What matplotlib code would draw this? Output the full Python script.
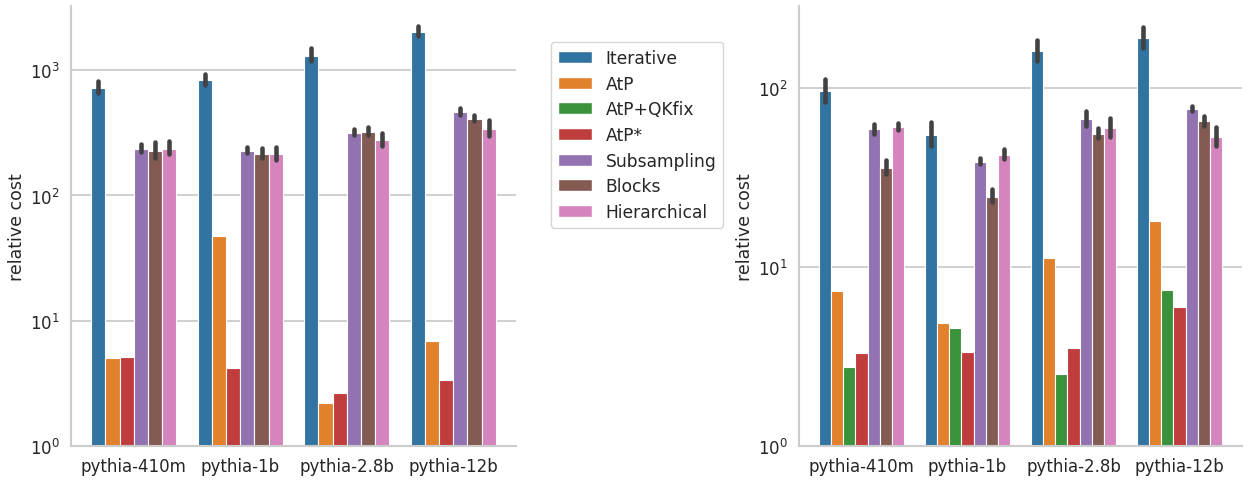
import colorsys
import numpy as np
import matplotlib
matplotlib.use("Agg")
import matplotlib.pyplot as plt
import matplotlib.colors as mcolors
from matplotlib.patches import Patch
import seaborn as sns

models = ["pythia-410m", "pythia-1b", "pythia-2.8b", "pythia-12b"]
methods = ["Iterative", "AtP", "AtP+QKfix", "AtP*", "Subsampling", "Blocks", "Hierarchical"]

# Left panel (no AtP+QKfix)
left_methods = ["Iterative", "AtP", "AtP*", "Subsampling", "Blocks", "Hierarchical"]
left_vals = {
    "Iterative":    [723, 838, 1312, 2018],
    "AtP":          [5.0, 47.2, 2.18, 6.87],
    "AtP*":         [5.15, 4.16, 2.64, 3.35],
    "Subsampling":  [235, 227, 316, 462],
    "Blocks":       [227, 215, 322, 411],
    "Hierarchical": [237, 215, 278, 342],
}
left_lo = {
    "Iterative":    [658, 769, 1183, 1875],
    "Subsampling":  [221, 219, 303, 440],
    "Blocks":       [198, 198, 305, 394],
    "Hierarchical": [213, 191, 247, 299],
}
left_hi = {
    "Iterative":    [828, 941, 1503, 2250],
    "Subsampling":  [256, 245, 338, 504],
    "Blocks":       [269, 241, 351, 440],
    "Hierarchical": [273, 245, 318, 402],
}

# Right panel
right_vals = {
    "Iterative":    [96.6, 54.8, 161, 191],
    "AtP":          [7.34, 4.88, 11.2, 18.0],
    "AtP+QKfix":    [2.76, 4.56, 2.52, 7.41],
    "AtP*":         [3.30, 3.34, 3.51, 5.95],
    "Subsampling":  [59.0, 38.7, 67.1, 76.3],
    "Blocks":       [36.0, 24.7, 55.7, 65.3],
    "Hierarchical": [60.7, 42.5, 60.0, 53.4],
}
right_lo = {
    "Iterative":    [84, 47.3, 142, 169],
    "Subsampling":  [55.5, 37.6, 61.3, 74.6],
    "Blocks":       [33.3, 23.0, 52.5, 61.8],
    "Hierarchical": [58.2, 40.4, 53.4, 47.7],
}
right_hi = {
    "Iterative":    [113, 64.5, 186, 220],
    "Subsampling":  [63.4, 40.7, 74.6, 79.3],
    "Blocks":       [39.7, 27.3, 60.2, 70.3],
    "Hierarchical": [64.0, 45.6, 68.4, 60.5],
}

sns.set_theme(style="whitegrid")
plt.rcParams['font.family'] = ['DejaVu Sans']


def desat(c, s=0.75):
    r, g, b = mcolors.to_rgb(c)
    h, l, sat = colorsys.rgb_to_hls(r, g, b)
    return colorsys.hls_to_rgb(h, l, sat * s)


base = plt.get_cmap("tab10").colors
colors = {m: desat(base[i]) for i, m in enumerate(methods)}

fig = plt.figure(figsize=(12.52, 4.81), dpi=100)
axL = fig.add_axes([71 / 1252, 34.3 / 481, 445 / 1252, 439.4 / 481])
axR = fig.add_axes([799 / 1252, 34.3 / 481, 443 / 1252, 439.4 / 481])


def draw(ax, mlist, vals, lo, hi, ytop):
    n = len(mlist)
    w = 0.8 / n
    x = np.arange(len(models))
    for j, m in enumerate(mlist):
        pos = x - 0.4 + w * (j + 0.5)
        ax.bar(pos, vals[m], width=w, color=colors[m], edgecolor="white",
               linewidth=0.8, zorder=2)
        if m in lo:
            for p, a, b in zip(pos, lo[m], hi[m]):
                ax.plot([p, p], [a, b], color=".26", lw=3.3,
                        solid_capstyle="round", zorder=3)
    ax.set_yscale("log")
    ax.set_ylim(1, ytop)
    ax.set_xticks(x)
    ax.set_xticklabels(models, fontsize=12)
    ax.tick_params(axis="y", which="both", labelsize=12, length=0, pad=8)
    ax.tick_params(axis="x", length=0, pad=8)
    ax.set_ylabel("relative cost", fontsize=12.5, labelpad=3)
    ax.grid(axis="x", visible=False)
    ax.grid(axis="y", which="major", color=".8", lw=1.3)
    ax.grid(axis="y", which="minor", visible=False)
    sns.despine(ax=ax)
    for s in ["left", "bottom"]:
        ax.spines[s].set_color(".8")
        ax.spines[s].set_linewidth(1.5)


draw(axL, left_methods, left_vals, left_lo, left_hi, 10 ** 3.512)
draw(axR, methods, right_vals, right_lo, right_hi, 10 ** 2.459)

handles = [Patch(facecolor=colors[m], edgecolor="white", label=m) for m in methods]
fig.legend(handles=handles, loc="upper left", bbox_to_anchor=(551 / 1252, 1 - 43 / 481),
           bbox_transform=fig.transFigure, borderaxespad=0, fontsize=12.3,
           frameon=True, handlelength=2.0, labelspacing=0.45)

fig.savefig("out.png", dpi=100)
